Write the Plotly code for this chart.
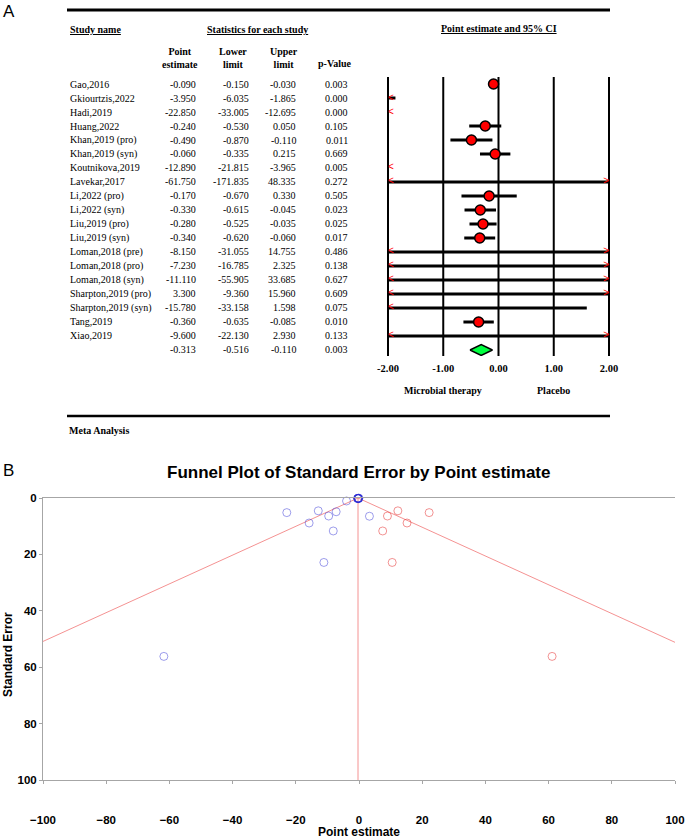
import plotly.graph_objects as go

# ---------------- data ----------------
studies = ["Gao,2016", "Gkiourtzis,2022", "Hadi,2019", "Huang,2022", "Khan,2019 (pro)",
           "Khan,2019 (syn)", "Koutnikova,2019", "Lavekar,2017", "Li,2022 (pro)", "Li,2022 (syn)",
           "Liu,2019 (pro)", "Liu,2019 (syn)", "Loman,2018 (pre)", "Loman,2018 (pro)",
           "Loman,2018 (syn)", "Sharpton,2019 (pro)", "Sharpton,2019 (syn)", "Tang,2019", "Xiao,2019"]
point = [-0.090, -3.950, -22.850, -0.240, -0.490, -0.060, -12.890, -61.750, -0.170, -0.330,
         -0.280, -0.340, -8.150, -7.230, -11.110, 3.300, -15.780, -0.360, -9.600]
lower = [-0.150, -6.035, -33.005, -0.530, -0.870, -0.335, -21.815, -171.835, -0.670, -0.615,
         -0.525, -0.620, -31.055, -16.785, -55.905, -9.360, -33.158, -0.635, -22.130]
upper = [-0.030, -1.865, -12.695, 0.050, -0.110, 0.215, -3.965, 48.335, 0.330, -0.045,
         -0.035, -0.060, 14.755, 2.325, 33.685, 15.960, 1.598, -0.085, 2.930]
pvalue = [0.003, 0.000, 0.000, 0.105, 0.011, 0.669, 0.005, 0.272, 0.505, 0.023,
          0.025, 0.017, 0.486, 0.138, 0.627, 0.609, 0.075, 0.010, 0.133]
summary_point = -0.313
summary_lower = -0.516
summary_upper = -0.110
summary_p = 0.003

forest_ticks = [-2, -1, 0, 1, 2]
forest_ticktext = ["-2.00", "-1.00", "0.00", "1.00", "2.00"]

# funnel plot: observed studies (standard errors) and imputed studies
observed_se = [0.03, 1.06, 5.18, 0.15, 0.19, 0.14, 4.55, 56.17, 0.26, 0.15,
               0.13, 0.14, 11.69, 4.88, 22.85, 6.46, 8.87, 0.14, 6.39]
imputed_x = [22.2, 12.3, 61.1, 7.5, 10.5, 15.2, 9.0]
imputed_se = [5.18, 4.55, 56.17, 11.69, 22.85, 8.87, 6.39]
summary_marks_se = [103.4, 107.8]   # observed / adjusted combined-effect marks below the axis
funnel_xticks = [-100, -80, -60, -40, -20, 0, 20, 40, 60, 80, 100]
funnel_yticks = [0, 20, 40, 60, 80, 100]

# ---------------- layout helpers ----------------
W, H = 685, 839
def px(x):
    return x / W
def py(y):
    return 1 - y / H

SERIF = "Liberation Serif"
SANS = "Liberation Sans"
FS = 10

fig = go.Figure()

n = len(studies)
sum_row = n  # summary row index

# forest axis geometry
pad = 0.04
unit_px = (609 - 388) / 4.0
fx0 = 388 - pad * unit_px
fx1 = 609 + pad * unit_px

# CI lines (clipped to the visible scale)
cx, cy = [], []
for i in range(n):
    a = max(lower[i], forest_ticks[0])
    b = min(upper[i], forest_ticks[-1])
    if a < b:
        cx += [a, b, None]
        cy += [i, i, None]
fig.add_trace(go.Scatter(x=cx, y=cy, mode="lines", line=dict(color="black", width=3),
                         xaxis="x", yaxis="y", hoverinfo="skip"))

# overflow arrows
lx = [forest_ticks[0] for i in range(n) if lower[i] < forest_ticks[0]]
ly = [i for i in range(n) if lower[i] < forest_ticks[0]]
rx = [forest_ticks[-1] for i in range(n) if upper[i] > forest_ticks[-1]]
ry = [i for i in range(n) if upper[i] > forest_ticks[-1]]
fig.add_trace(go.Scatter(x=lx, y=ly, mode="text", text=["<"] * len(lx), textposition="middle right",
                         textfont=dict(family=SANS, size=10, color="red"), cliponaxis=False,
                         xaxis="x", yaxis="y", hoverinfo="skip"))
fig.add_trace(go.Scatter(x=rx, y=ry, mode="text", text=[">"] * len(rx), textposition="middle left",
                         textfont=dict(family=SANS, size=10, color="red"), cliponaxis=False,
                         xaxis="x", yaxis="y", hoverinfo="skip"))

# point markers
mx = [point[i] for i in range(n) if forest_ticks[0] <= point[i] <= forest_ticks[-1]]
my = [i for i in range(n) if forest_ticks[0] <= point[i] <= forest_ticks[-1]]
fig.add_trace(go.Scatter(x=mx, y=my, mode="markers",
                         marker=dict(size=10, color="#ff0000", line=dict(color="black", width=1.5)),
                         xaxis="x", yaxis="y", hoverinfo="skip"))

# summary diamond
dh = 0.39
fig.add_trace(go.Scatter(x=[summary_lower, summary_point, summary_upper, summary_point, summary_lower],
                         y=[sum_row, sum_row - dh, sum_row, sum_row + dh, sum_row],
                         mode="lines", fill="toself", fillcolor="#00ff40",
                         line=dict(color="black", width=1.5), xaxis="x", yaxis="y", hoverinfo="skip"))

# ---------------- funnel plot ----------------
fmax = funnel_yticks[-1]
fig.add_trace(go.Scatter(x=[summary_point - 1.96 * fmax, summary_point, summary_point + 1.96 * fmax],
                         y=[fmax, 0, fmax], mode="lines",
                         line=dict(color="rgba(240,110,110,0.75)", width=1),
                         xaxis="x2", yaxis="y2", hoverinfo="skip"))
fig.add_trace(go.Scatter(x=[summary_point, summary_point], y=[0, fmax], mode="lines",
                         line=dict(color="rgba(240,110,110,0.75)", width=1),
                         xaxis="x2", yaxis="y2", hoverinfo="skip"))
fig.add_trace(go.Scatter(x=point, y=observed_se, mode="markers",
                         marker=dict(symbol="circle-open", size=8, color="rgba(40,40,210,0.45)",
                                     line=dict(width=1)),
                         cliponaxis=False, xaxis="x2", yaxis="y2", hoverinfo="skip"))
fig.add_trace(go.Scatter(x=imputed_x, y=imputed_se, mode="markers",
                         marker=dict(symbol="circle-open", size=8, color="rgba(230,40,40,0.5)",
                                     line=dict(width=1)),
                         cliponaxis=False, xaxis="x2", yaxis="y2", hoverinfo="skip"))
fig.add_trace(go.Scatter(x=[summary_point, summary_point], y=summary_marks_se, mode="markers",
                         marker=dict(symbol="line-ns", size=7,
                                     color=["rgba(80,80,230,0.6)", "rgba(240,90,90,0.6)"],
                                     line=dict(width=1.5,
                                               color=["rgba(80,80,230,0.6)", "rgba(240,90,90,0.6)"])),
                         cliponaxis=False, xaxis="x2", yaxis="y2", hoverinfo="skip"))

# ---------------- annotations ----------------
ann = []
def txt(x, y, s, size=FS, family=SERIF, anchor="left", yanchor="middle", xref="paper", yref="paper",
        weight="normal", color="black", **kw):
    ann.append(dict(x=x, y=y, xref=xref, yref=yref, text=s, showarrow=False, xanchor=anchor,
                    yanchor=yanchor, font=dict(family=family, size=size, color=color, weight=weight), **kw))

txt(px(1), py(0), "A", size=17, family=SANS, yanchor="top")
txt(px(1), py(470), "B", size=17, family=SANS)

# headers
txt(px(68), py(30), "<u>Study name</u>", weight="bold")
txt(px(257), py(30), "<u>Statistics for each study</u>", anchor="center", weight="bold")
txt(px(499), py(29), "<u>Point estimate and 95% CI</u>", anchor="center", weight="bold")
txt(px(180), py(57.5), "Point<br>estimate", anchor="center", weight="bold")
txt(px(233), py(57.5), "Lower<br>limit", anchor="center", weight="bold")
txt(px(284), py(57.5), "Upper<br>limit", anchor="center", weight="bold")
txt(px(335), py(63), "p-Value", anchor="center", weight="bold")

cols = [198, 251, 298, 350]
for i in range(n):
    txt(px(68), i, studies[i], yref="y")
    for c, v in zip(cols, [point[i], lower[i], upper[i], pvalue[i]]):
        txt(px(c), i, f"{v:.3f}", anchor="right", yref="y")
for c, v in zip(cols, [summary_point, summary_lower, summary_upper, summary_p]):
    txt(px(c), sum_row, f"{v:.3f}", anchor="right", yref="y")

txt(forest_ticks[1], py(390), "Microbial therapy", anchor="center", xref="x", weight="bold")
txt(forest_ticks[3], py(390), "Placebo", anchor="center", xref="x", weight="bold")
txt(px(67), py(430), "Meta Analysis", weight="bold")

# funnel titles
txt(px(359), py(472), "Funnel Plot of Standard Error by Point estimate", size=17, family=SANS,
    anchor="center", weight="bold")
txt(px(359), py(832), "Point estimate", size=12, family=SANS, anchor="center", weight="bold")
txt(px(8), py(655), "Standard Error", size=12, family=SANS, anchor="center", weight="bold",
    textangle=-90)

# ---------------- shapes ----------------
shapes = []
shapes.append(dict(type="line", xref="paper", yref="paper", x0=px(67), x1=px(610), y0=py(10), y1=py(10),
                   line=dict(color="black", width=3)))
shapes.append(dict(type="line", xref="paper", yref="paper", x0=px(67), x1=px(610), y0=py(416), y1=py(416),
                   line=dict(color="black", width=2.5)))
for t in forest_ticks:
    shapes.append(dict(type="line", xref="x", yref="paper", x0=t, x1=t, y0=py(356), y1=py(77),
                       line=dict(color="black", width=2), layer="below"))

fig.update_layout(
    width=W, height=H, margin=dict(l=0, r=0, t=0, b=0, autoexpand=False),
    paper_bgcolor="white", plot_bgcolor="rgba(0,0,0,0)", showlegend=False,
    annotations=ann, shapes=shapes,
    xaxis=dict(domain=[px(fx0), px(fx1)], range=[forest_ticks[0] - pad, forest_ticks[-1] + pad],
               showgrid=False, zeroline=False, showline=False, tickvals=forest_ticks,
               ticktext=forest_ticktext, ticks="", anchor="y", automargin=False,
               ticklabelstandoff=4,
               tickfont=dict(family=SERIF, size=10.5, color="black", weight="bold")),
    yaxis=dict(domain=[py(356), py(77)], range=[sum_row + 0.43, -0.5], visible=False, anchor="x",
               automargin=False),
    xaxis2=dict(domain=[px(43), px(675)], range=[-100, 100], tickvals=funnel_xticks,
                showgrid=False, zeroline=False, showline=True, linecolor="#a6a6a6", linewidth=1,
                mirror=True, ticks="outside", ticklen=3, tickcolor="#a6a6a6", anchor="y2",
                ticklabelstandoff=26, automargin=False,
                tickfont=dict(family=SANS, size=11.5, color="black", weight="bold")),
    yaxis2=dict(domain=[py(780), py(498)], range=[fmax, 0], tickvals=funnel_yticks,
                showgrid=False, zeroline=False, showline=True, linecolor="#a6a6a6", linewidth=1,
                ticks="outside", ticklen=3, tickcolor="#a6a6a6", anchor="x2", automargin=False,
                tickfont=dict(family=SANS, size=11.5, color="black", weight="bold")),
)

fig.write_html("out.html", config={"displayModeBar": False},
               post_script="document.body.style.margin='0';document.body.style.overflow='hidden';")
